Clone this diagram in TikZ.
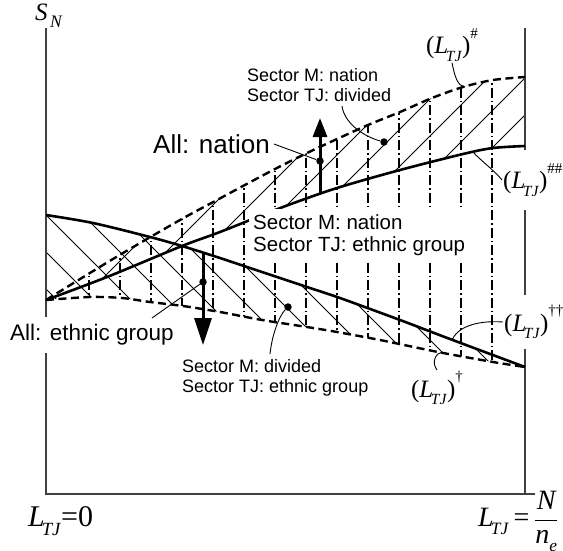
\documentclass[tikz,border=0pt]{standalone}
\usepackage{graphicx}
\usepackage{fontspec}
\setmainfont{Liberation Serif}
\setsansfont{Liberation Sans}
\usetikzlibrary{arrows.meta}
\newcommand{\Ltj}{\textit{L}\kern-0.1em\raisebox{-0.3em}{\scalebox{0.62}{\textit{TJ}}}}
\newcommand{\supmark}[1]{\raisebox{0.62em}{\scalebox{0.6}{#1}}}

\begin{document}
\begin{tikzpicture}[x=1pt, y=-1pt,
  axis/.style={line width=1.2pt, black!75},
  curve/.style={line width=2.6pt, line join=round},
  dcurve/.style={line width=2.4pt, dash pattern=on 8pt off 4.5pt},
  hatch/.style={line width=0.9pt},
  vline/.style={line width=1.2pt, dash pattern=on 10pt off 3pt on 1.5pt off 3pt},
  ptr/.style={line width=0.9pt},
  dot/.style={circle, fill, inner sep=0pt, minimum size=7.5pt},
  sector/.style={fill=white, align=left, inner sep=4pt,
                 font={\sffamily\fontsize{18}{20}\selectfont}},
  allbox/.style={fill=white, inner sep=4pt},
  mlabel/.style={fill=white, inner sep=1pt, font={\fontsize{25}{30}\selectfont}},
  uparrow/.style={line width=3pt, -{Triangle[length=19pt,width=14pt]}},
  downarrow/.style={line width=3pt, -{Triangle[length=27pt,width=17pt]}},
]
\useasboundingbox (0,0) rectangle (563,550);

\begin{scope}
  \clip plot[smooth] coordinates {(46,300) (85,276) (123,253) (180,220) (217,200) (243,186) (275,169) (307,153) (337,139) (368,125) (400,112) (432,98) (463,87) (493,80) (525,77)}
    -- plot[smooth] coordinates {(525,146) (493,148) (463,154) (400,170) (337,188) (283,207) (220,232) (182,246) (107,277) (46,300)} -- cycle;
  \foreach \c in {344,381,...,640}
    \draw[hatch] (\c-400,400) -- (\c,0);
\end{scope}
\begin{scope}
  \clip plot[smooth] coordinates {(46,215) (93,223) (150,237) (182,246) (220,258) (250,268) (307,287) (340,298) (400,320) (450,339) (525,367)}
    -- plot[smooth] coordinates {(525,367) (493,362) (438,352) (380,340) (337,332) (307,327) (262,320) (220,312) (183,306) (150,302) (122,298) (90,297) (46,300)} -- cycle;
  \foreach \d in {-127,-90,...,243}
    \draw[hatch] (0,\d) -- (600,600+\d);
\end{scope}
\begin{scope}
  \clip plot[smooth] coordinates {(46,300) (85,276) (123,253) (180,220) (217,200) (243,186) (275,169) (307,153) (337,139) (368,125) (400,112) (432,98) (463,87) (493,80) (525,77)}
    -- plot[smooth] coordinates {(525,367) (493,362) (438,352) (380,340) (337,332) (307,327) (262,320) (220,312) (183,306) (150,302) (122,298) (90,297) (46,300)} -- cycle;
  \foreach \x in {89,120,...,492}
    \draw[vline] (\x,0) -- (\x,400);
\end{scope}

\coordinate (top) at (46,28);
\coordinate (O) at (46,494);
\coordinate (end) at (535,494);
\coordinate (rtop) at (525,28);
\coordinate (rbot) at (525,494);
\draw[axis] (top) -- (O) -- (end);
\draw[axis] (rtop) -- (rbot);

\draw[dcurve] plot[smooth] coordinates {(46,300) (85,276) (123,253) (180,220) (217,200) (243,186) (275,169) (307,153) (337,139) (368,125) (400,112) (432,98) (463,87) (493,80) (525,77)};
\draw[dcurve] plot[smooth] coordinates {(46,300) (90,297) (122,298) (150,302) (183,306) (220,312) (262,320) (307,327) (337,332) (380,340) (438,352) (493,362) (525,367)};
\draw[curve] plot[smooth] coordinates {(46,300) (107,277) (182,246) (220,232) (283,207) (337,188) (400,170) (463,154) (493,148) (525,146)};
\draw[curve] plot[smooth] coordinates {(46,215) (93,223) (150,237) (182,246) (220,258) (250,268) (307,287) (340,298) (400,320) (450,339) (525,367)};

\coordinate (upS) at (320,194);
\coordinate (upE) at (320,118);
\coordinate (dnS) at (203,252);
\coordinate (dnE) at (203,345);
\draw[uparrow] (upS) -- (upE);
\draw[downarrow] (dnS) -- (dnE);

\node[dot] (dNation) at (320,161) {};
\node[dot] (dDivided) at (384,142) {};
\node[dot] (dEthnic) at (203,282) {};
\node[dot] (dMdiv) at (288,307) {};

\node[sector, anchor=west] (lblTop) at (243,85) {Sector M: nation\\Sector TJ: divided};
\node[sector, anchor=west, inner ysep=5pt, font={\sffamily\fontsize{20.5}{22}\selectfont}] (lblMid) at (249,235)
  {Sector M: nation\\Sector TJ: ethnic group};
\node[sector, anchor=west] (lblBot) at (178,378) {Sector M: divided\\Sector TJ: ethnic group};
\node[allbox, anchor=west, font={\sffamily\fontsize{26}{30}\selectfont}] (lblAllN) at (149,144) {All: nation};
\node[allbox, anchor=west, inner ysep=8pt, font={\sffamily\fontsize{22.5}{26}\selectfont}] (lblAllE) at (6,335) {All: ethnic group};

\node[mlabel] (lblH) at (452,45) {(\Ltj)\supmark{\#}};
\node[mlabel, anchor=west, inner ysep=14pt] (lblHH) at (502,180) {(\Ltj)\supmark{\#\#}};
\node[mlabel, anchor=west, inner ysep=10pt] (lblDD) at (503,322) {(\Ltj)\supmark{\textdagger\textdagger}};
\node[mlabel] (lblD) at (437,388) {(\Ltj)\supmark{\textdagger}};

\node[inner sep=0pt, anchor=base west, font={\fontsize{25}{28}\selectfont}] (lblS) at (35,20)
  {\textit{S}\kern0.1em\raisebox{-0.3em}{\scalebox{0.7}{\textit{N}}}};
\node[inner sep=0pt, anchor=base west, font={\fontsize{30}{34}\selectfont}] (lblZero) at (28,526) {\Ltj{=}0};
\node[inner sep=0pt, anchor=base west, font={\fontsize{28}{34}\selectfont}] (lblMax) at (478,526)
  {\Ltj\,=\,$\displaystyle\frac{\textit{N}}{\textit{n}\raisebox{-0.3em}{\scalebox{0.62}{\textit{e}}}}$};

\coordinate (pTop) at (342,106);
\coordinate (pAllE) at (152,318);
\coordinate (pBot) at (270,354);
\coordinate (eH) at (465,87);
\coordinate (eHH) at (473,152);
\coordinate (eDD) at (452,340);
\coordinate (eD) at (442,352);

\draw[ptr] (lblAllN.east) -- (dNation);
\draw[ptr] (pTop) .. controls (344,122) and (362,136) .. (dDivided);
\draw[ptr] (pAllE) -- (dEthnic);
\draw[ptr] (pBot) .. controls (272,335) and (279,316) .. (dMdiv);
\draw[ptr] (lblH.south) .. controls (455,78) and (458,86) .. (eH);
\draw[ptr] (lblHH.west) .. controls (494,170) and (480,160) .. (eHH);
\draw[ptr] (lblDD.west) .. controls (475,320) and (457,328) .. (eDD);
\draw[ptr] (lblD.north) .. controls (431,362) and (436,353) .. (eD);
\end{tikzpicture}
\end{document}
